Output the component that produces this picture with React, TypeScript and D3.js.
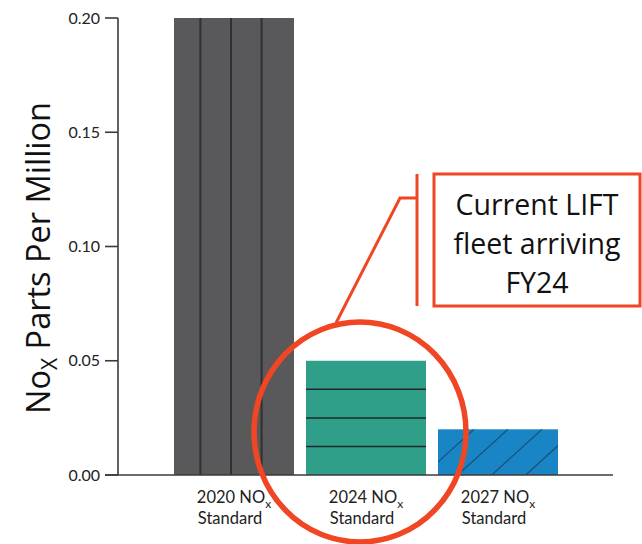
import { useEffect, useRef } from 'react';
import * as d3 from 'd3';

// data
const categories = ['2020', '2024', '2027'];
const values = [0.2, 0.05, 0.02];
const yTicks = [0, 0.05, 0.1, 0.15, 0.2];
const noteLines = ['Current LIFT', 'fleet arriving', 'FY24'];

const colors = ['#59595b', '#2f9f8a', '#1a85c5'];
const RED = '#f04624';

export default function App() {
  const ref = useRef<SVGSVGElement | null>(null);
  const width = 642;
  const height = 544;

  useEffect(() => {
    const svg = d3.select(ref.current);
    svg.selectAll('*').remove();

    const x = d3
      .scaleBand<string>()
      .domain(categories)
      .range([168, 564])
      .paddingInner(12 / 132)
      .paddingOuter(6 / 132);

    const y = d3.scaleLinear().domain([0, 0.2]).range([475, 18]);
    const bw = x.bandwidth();

    const defs = svg.append('defs');
    defs
      .append('clipPath')
      .attr('id', 'clip-2027')
      .append('rect')
      .attr('x', x('2027')!)
      .attr('y', y(values[2]))
      .attr('width', bw)
      .attr('height', y(0) - y(values[2]));

    // bars
    svg
      .append('g')
      .selectAll('rect')
      .data(values)
      .join('rect')
      .attr('x', (_, i) => x(categories[i])!)
      .attr('y', d => y(d))
      .attr('width', bw)
      .attr('height', d => y(0) - y(d))
      .attr('fill', (_, i) => colors[i]);

    // 2020 bar vertical dividers
    const x0 = x('2020')!;
    svg
      .append('g')
      .selectAll('line')
      .data([0.22, 0.475, 0.73])
      .join('line')
      .attr('x1', f => x0 + f * bw)
      .attr('x2', f => x0 + f * bw)
      .attr('y1', y(values[0]))
      .attr('y2', y(0))
      .attr('stroke', '#303032')
      .attr('stroke-width', 2);

    // 2024 bar horizontal dividers
    const x1 = x('2024')!;
    svg
      .append('g')
      .selectAll('line')
      .data([0.0125, 0.025, 0.0375])
      .join('line')
      .attr('x1', x1)
      .attr('x2', x1 + bw)
      .attr('y1', d => y(d))
      .attr('y2', d => y(d))
      .attr('stroke', '#1f2b2a')
      .attr('stroke-width', 1.5);

    // 2027 bar hatch
    const x2 = x('2027')!;
    const top = y(values[2]);
    const h = y(0) - top;
    svg
      .append('g')
      .attr('clip-path', 'url(#clip-2027)')
      .selectAll('line')
      .data([0.3, 0.583, 0.867, 1.15])
      .join('line')
      .attr('x1', f => x2 + f * bw)
      .attr('y1', top)
      .attr('x2', f => x2 + f * bw - 1.1 * h)
      .attr('y2', y(0))
      .attr('stroke', '#17507c')
      .attr('stroke-width', 1.2);

    // axes
    const axis = svg.append('g').attr('stroke', '#3a3a3a').attr('stroke-width', 1.6);
    axis.append('line').attr('x1', 118).attr('x2', 118).attr('y1', y(0.2)).attr('y2', y(0));
    axis.append('line').attr('x1', 105).attr('x2', 613).attr('y1', y(0)).attr('y2', y(0));
    axis
      .selectAll('line.tick')
      .data(yTicks)
      .join('line')
      .attr('class', 'tick')
      .attr('x1', 105)
      .attr('x2', 118)
      .attr('y1', d => y(d))
      .attr('y2', d => y(d));

    svg
      .append('g')
      .selectAll('text')
      .data(yTicks)
      .join('text')
      .attr('x', 100)
      .attr('y', d => y(d))
      .attr('dy', '0.35em')
      .attr('text-anchor', 'end')
      .attr('font-family', 'Lato, sans-serif')
      .attr('font-size', 16)
      .attr('fill', '#222')
      .text(d => d3.format('.2f')(d));

    // x labels
    const xl = svg
      .append('g')
      .attr('font-family', 'Lato, sans-serif')
      .attr('font-size', 16.5)
      .attr('fill', '#222');
    categories.forEach(c => {
      const cx = x(c)! + bw / 2;
      const t = xl.append('text').attr('x', cx).attr('y', 503).attr('text-anchor', 'middle');
      t.append('tspan').text(`${c} NO`);
      t.append('tspan').attr('font-size', 12).attr('dy', 5).text('x');
      xl.append('text').attr('x', cx - 4).attr('y', 524).attr('text-anchor', 'middle').text('Standard');
    });

    // y title
    const yt = svg
      .append('text')
      .attr('transform', 'translate(50,258) rotate(-90)')
      .attr('text-anchor', 'middle')
      .attr('font-family', '"Open Sans", sans-serif')
      .attr('font-size', 32.5)
      .attr('fill', '#111');
    yt.append('tspan').text('No');
    yt.append('tspan').attr('font-size', 21).attr('dy', 7).text('X');
    yt.append('tspan').attr('dy', -7).text(' Parts Per Million');

    // annotation
    const note = svg.append('g').attr('stroke', RED).attr('fill', 'none');
    note.append('rect').attr('x', 434).attr('y', 174).attr('width', 206).attr('height', 132).attr('stroke-width', 3);
    note
      .append('path')
      .attr('d', 'M417,174V306 M417,198H400L336,323')
      .attr('stroke-width', 3);
    note
      .append('ellipse')
      .attr('cx', 360)
      .attr('cy', 432)
      .attr('rx', 106)
      .attr('ry', 110)
      .attr('stroke-width', 5.5);

    svg
      .append('g')
      .selectAll('text')
      .data(noteLines)
      .join('text')
      .attr('x', 537)
      .attr('y', (_, i) => 215 + i * 39)
      .attr('text-anchor', 'middle')
      .attr('font-family', '"Open Sans", sans-serif')
      .attr('font-size', 28.5)
      .attr('fill', '#111')
      .text(d => d);
  }, []);

  return (
    <svg
      ref={ref}
      width={width}
      height={height}
      style={{ position: 'absolute', left: 0, top: 0, background: '#fff' }}
    ></svg>
  );
}
